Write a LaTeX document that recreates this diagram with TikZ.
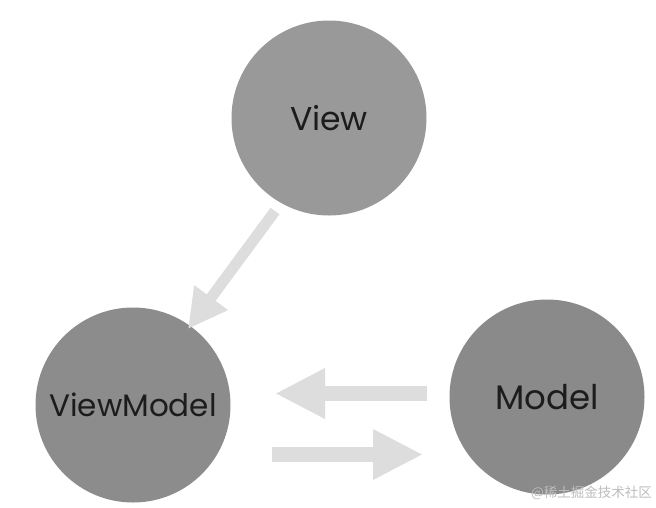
\documentclass[tikz,border=0pt]{standalone}
\usepackage{fontspec}
\setmainfont{Poppins}
\newfontfamily\cjk{Noto Sans CJK SC}
\usetikzlibrary{arrows.meta}
\definecolor{viewgray}{HTML}{999999}
\definecolor{vmgray}{HTML}{8C8C8C}
\definecolor{modelgray}{HTML}{8A8A8A}
\definecolor{arrowgray}{HTML}{DDDDDD}
\definecolor{textdark}{HTML}{1C1C1C}
\definecolor{wmgray}{HTML}{BDBDBD}
\tikzset{
  x=1pt, y=-1pt,
  ball/.style={circle, minimum size=195pt, inner sep=0pt, text=textdark},
  flow/.style={draw=arrowgray, line width=15pt, -{Triangle[length=50pt, width=47pt]}},
  diagflow/.style={draw=arrowgray, line width=11pt, -{Triangle[length=39pt, width=39pt]}},
}
\begin{document}
\begin{tikzpicture}
\useasboundingbox (0,0) rectangle (656,507);
\fill[white] (0,0) rectangle (656,507);
\node[ball, fill=viewgray, font=\fontsize{33}{33}\selectfont] (View) at (329,118) {View};
\node[ball, fill=vmgray, font=\fontsize{31}{31}\selectfont] (ViewModel) at (133,405) {ViewModel};
\node[ball, fill=modelgray, font=\fontsize{34}{34}\selectfont] (Model) at (547,397) {Model};
\coordinate (d1) at (275,211);
\coordinate (d2) at (188,329);
\coordinate (u1) at (427,393.5);
\coordinate (u2) at (275,393.5);
\coordinate (l1) at (272,454.5);
\coordinate (l2) at (423,454.5);
\draw[diagflow] (d1) -- (d2);
\draw[flow] (u1) -- (u2);
\draw[flow] (l1) -- (l2);
\node[text=wmgray, font=\cjk\fontsize{13.5}{13.5}\selectfont, anchor=east, inner sep=0pt] (wm) at (652,493) {@稀土掘金技术社区};
\end{tikzpicture}
\end{document}
